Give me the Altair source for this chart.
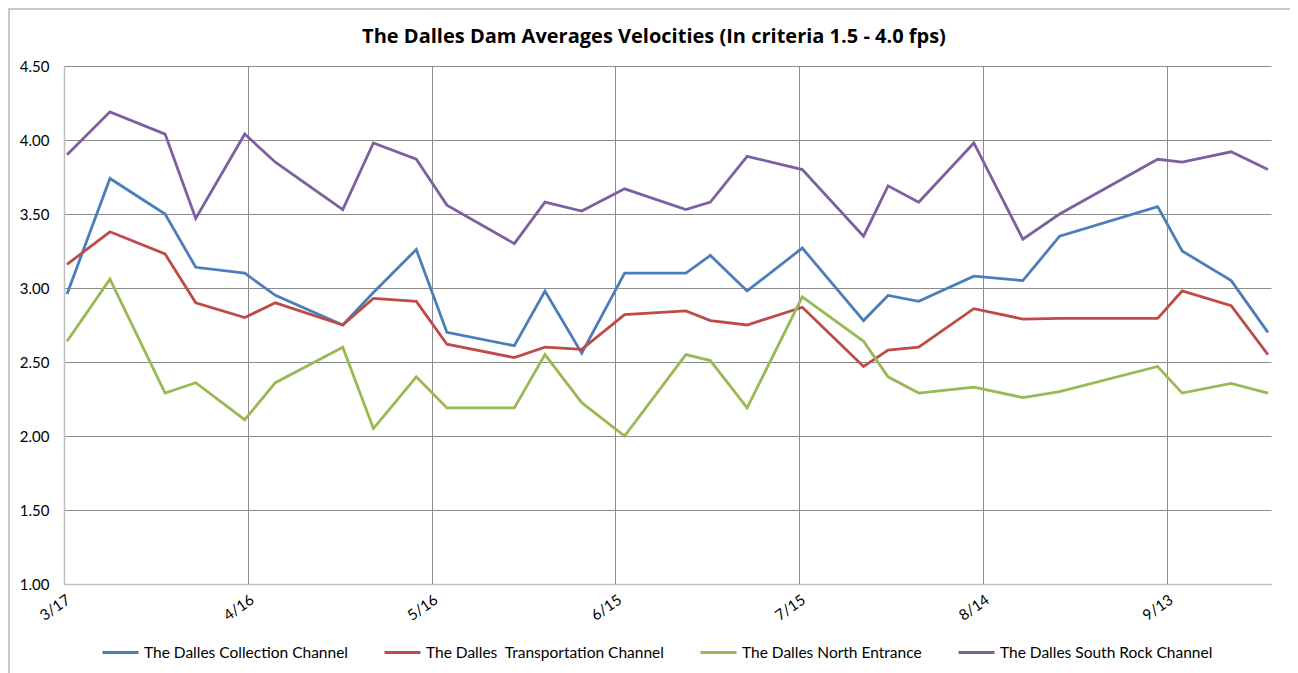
import altair as alt
import pandas as pd

# Sample dates (2010)
dates = ["2010-03-17", "2010-03-24", "2010-04-02", "2010-04-07", "2010-04-15", "2010-04-20",
         "2010-05-01", "2010-05-06", "2010-05-13", "2010-05-18", "2010-05-29", "2010-06-03",
         "2010-06-09", "2010-06-16", "2010-06-26", "2010-06-30", "2010-07-06", "2010-07-15",
         "2010-07-25", "2010-07-29", "2010-08-03", "2010-08-12", "2010-08-20", "2010-08-26",
         "2010-09-11", "2010-09-15", "2010-09-23", "2010-09-29"]

collection = [2.96, 3.74, 3.50, 3.14, 3.10, 2.95, 2.75, 2.97, 3.26, 2.70, 2.61, 2.98,
              2.56, 3.10, 3.10, 3.22, 2.98, 3.27, 2.78, 2.95, 2.91, 3.08, 3.05, 3.35,
              3.55, 3.25, 3.05, 2.70]
transportation = [3.16, 3.38, 3.23, 2.90, 2.80, 2.90, 2.75, 2.93, 2.91, 2.62, 2.53, 2.60,
                  2.585, 2.82, 2.845, 2.78, 2.75, 2.87, 2.47, 2.58, 2.60, 2.86, 2.79, 2.795,
                  2.795, 2.98, 2.88, 2.55]
north_entrance = [2.64, 3.06, 2.29, 2.36, 2.11, 2.36, 2.60, 2.05, 2.40, 2.19, 2.19, 2.55,
                  2.225, 2.00, 2.55, 2.51, 2.19, 2.94, 2.64, 2.40, 2.29, 2.33, 2.26, 2.30,
                  2.47, 2.29, 2.355, 2.29]
south_rock = [3.90, 4.19, 4.04, 3.47, 4.04, 3.85, 3.53, 3.98, 3.87, 3.56, 3.30, 3.58,
              3.52, 3.67, 3.53, 3.58, 3.89, 3.80, 3.35, 3.69, 3.58, 3.98, 3.33, 3.50,
              3.87, 3.85, 3.92, 3.80]

series_names = ["The Dalles Collection Channel", "The Dalles \u00a0Transportation Channel",
                "The Dalles North Entrance", "The Dalles South Rock Channel"]
series_colors = ["#4A7EBB", "#BE4B48", "#98B954", "#7D60A0"]

x_tick_dates = [(2010, 3, 17), (2010, 4, 16), (2010, 5, 16), (2010, 6, 15),
                (2010, 7, 15), (2010, 8, 14), (2010, 9, 13)]
y_ticks = [1.0, 1.5, 2.0, 2.5, 3.0, 3.5, 4.0, 4.5]

title_text = "The Dalles Dam Averages Velocities (In criteria 1.5 - 4.0 fps)"
FONT = "Lato"
TITLE_FONT = "Open Sans"

rows = []
for name, vals in zip(series_names, [collection, transportation, north_entrance, south_rock]):
    for d, v in zip(dates, vals):
        rows.append({"date": d + "T12:00:00", "series": name, "value": v})
df = pd.DataFrame(rows)

x_values = [alt.DateTime(year=y, month=m, date=d) for (y, m, d) in x_tick_dates]

lines = alt.Chart(df).mark_line(strokeWidth=2.8).encode(
    x=alt.X("date:T",
            scale=alt.Scale(domain=[alt.DateTime(year=2010, month=3, date=17),
                                    alt.DateTime(year=2010, month=9, date=30)]),
            axis=alt.Axis(values=x_values, format="%-m/%-d", labelAngle=-35,
                          labelAlign="right", labelBaseline="top",
                          labelPadding=8, labelFontSize=15, labelFont=FONT,
                          labelColor="#000000", ticks=False,
                          domainColor="#BFBFBF", domainWidth=1.5,
                          grid=True, gridColor="#8C8C8C", gridWidth=1),
            title=None),
    y=alt.Y("value:Q",
            scale=alt.Scale(domain=[1.0, 4.5], nice=False, zero=False),
            axis=alt.Axis(values=y_ticks, format=".2f", labelFontSize=15,
                          labelFont=FONT, labelColor="#000000", ticks=False,
                          labelPadding=15, domainColor="#BFBFBF", domainWidth=1.5,
                          grid=True, gridColor="#8C8C8C", gridWidth=1),
            title=None),
    color=alt.Color("series:N",
                    scale=alt.Scale(domain=series_names, range=series_colors),
                    legend=alt.Legend(title=None, orient="none", direction="horizontal",
                                      legendX=37, legendY=567,
                                      symbolType="stroke", symbolSize=1296,
                                      symbolStrokeWidth=3, labelFontSize=15.5,
                                      labelFont=FONT, labelColor="#000000",
                                      labelLimit=400,
                                      labelOffset=4, columnPadding=30)),
    order=alt.Order("date:T"),
)

blank = alt.Data(values=[{}])
border_top = alt.Chart(blank).mark_rule(color="#C8C8C8", strokeWidth=2).encode(
    x=alt.value(-56), x2=alt.value(1240), y=alt.value(-57))
border_left = alt.Chart(blank).mark_rule(color="#C8C8C8", strokeWidth=2).encode(
    x=alt.value(-55), y=alt.value(-58), y2=alt.value(620))
title_mark = alt.Chart(blank).mark_text(
    text=title_text, font=TITLE_FONT, fontSize=20, fontWeight="bold", color="#000000",
    align="center", baseline="alphabetic").encode(
    x=alt.value(590), y=alt.value(-23))

chart = alt.layer(border_top, border_left, title_mark, lines).properties(
    width=1207, height=518,
    padding={"left": 56, "top": 58, "right": 19, "bottom": 100},
    autosize=alt.AutoSizeParams(type="none"),
).configure_view(stroke=None)

chart.save("out.html", embed_options={"renderer": "svg", "actions": False})
